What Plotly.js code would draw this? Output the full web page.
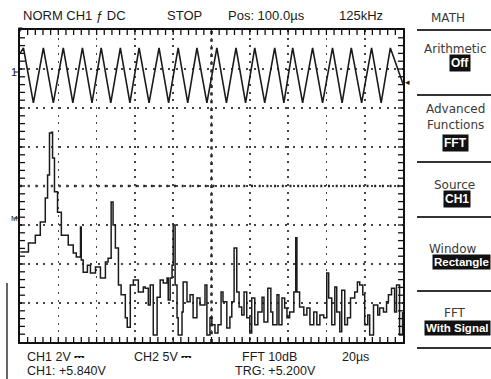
<!DOCTYPE html>
<html>
<head>
<meta charset="utf-8">
<script src="https://cdn.plot.ly/plotly-3.0.1.min.js"></script>
<style>html,body{margin:0;padding:0;background:#fff;}#chart{width:491px;height:379px;}</style>
</head>
<body>
<div id="chart"></div>
<script>
// ---- DATA (screen divisions: x 0..10, y 0..8) ----
// CH1 triangle waveform vertices
const triX = [0.00,0.09,0.35,0.61,0.87,1.13,1.38,1.63,1.88,2.12,2.37,2.62,2.87,3.11,3.37,3.63,3.88,4.13,4.38,4.62,4.88,5.14,5.39,5.64,5.89,6.13,6.39,6.65,6.89,7.12,7.38,7.64,7.90,8.16,8.41,8.65,8.92,9.18,9.43,9.67,10.0];
const triY = [7.40,7.54,6.13,7.54,6.13,7.54,6.13,7.54,6.13,7.54,6.13,7.54,6.13,7.54,6.13,7.54,6.13,7.54,6.13,7.54,6.13,7.54,6.13,7.54,6.13,7.54,6.13,7.54,6.13,7.54,6.13,7.54,6.13,7.54,6.13,7.54,6.13,7.54,6.13,7.54,6.62];
// FFT (10 dB/div) trace
const fftX = [0.01,0.22,0.40,0.53,0.66,0.72,0.77,0.82,0.85,0.90,0.98,1.08,1.26,1.39,1.47,1.55,1.58,1.60,1.65,1.76,1.84,1.97,2.10,2.23,2.30,2.38,2.43,2.49,2.57,2.64,2.75,2.80,2.88,2.96,3.09,3.22,3.27,3.35,3.40,3.48,3.58,3.66,3.74,3.84,3.87,3.92,3.97,4.00,4.05,4.10,4.13,4.23,4.26,4.36,4.44,4.52,4.62,4.70,4.83,4.88,4.96,5.01,5.09,5.17,5.25,5.30,5.40,5.48,5.53,5.59,5.66,5.72,5.79,5.85,5.92,6.00,6.05,6.13,6.21,6.32,6.37,6.47,6.55,6.60,6.71,6.76,6.84,6.91,6.97,7.04,7.15,7.20,7.23,7.30,7.41,7.49,7.57,7.67,7.75,7.83,7.93,8.01,8.06,8.14,8.22,8.27,8.35,8.40,8.48,8.55,8.63,8.74,8.81,8.87,8.95,9.00,9.08,9.13,9.23,9.34,9.39,9.49,9.57,9.62,9.70,9.78,9.83,9.91,9.99];
const fftY = [2.31,2.54,2.74,3.08,3.69,4.28,5.36,5.38,4.72,3.85,3.33,2.74,2.49,2.28,2.18,2.18,2.95,2.10,1.79,1.97,1.77,1.92,1.64,2.05,2.15,3.59,3.00,2.41,1.46,1.21,0.62,0.38,1.46,1.59,1.28,1.41,1.38,0.95,1.46,0.18,1.15,1.59,1.51,1.64,1.08,1.64,1.97,3.00,1.46,0.62,0.18,0.77,1.54,1.03,1.21,0.62,1.13,0.95,1.46,0.18,0.62,0.44,0.23,0.44,1.28,1.03,0.36,0.64,1.03,2.41,1.28,0.90,0.69,1.28,0.62,0.23,1.13,0.44,0.77,1.15,0.51,1.38,0.77,0.44,1.21,0.44,1.13,0.87,0.62,0.77,1.28,2.67,1.28,0.90,0.69,0.87,0.44,0.77,0.44,0.69,0.62,1.77,1.13,0.44,1.41,0.77,0.26,1.33,0.44,0.62,1.13,1.28,1.54,1.46,1.21,0.44,0.69,0.18,0.95,0.69,0.87,0.77,1.03,1.21,1.38,0.77,1.46,0.18,0.77];
// Status texts
const topLabels = ["NORM CH1 ƒ DC","STOP","Pos: 100.0µs","125kHz"];
const bottomRow1 = ["CH1 2V ⎓","CH2 5V ⎓","FFT 10dB","20µs"];
const bottomRow2 = ["CH1: +5.840V","TRG: +5.200V"];
const menuTitle = "MATH";
const menuLabels = ["Arithmetic","Advanced<br>Functions","Source","Window","FFT"];
const menuValues = ["Off","FFT","CH1","Rectangle","With Signal"];

// ---- LAYOUT ----
const W=491,H=379,L=20,R=403,T=30,B=342;
const px=x=>(x-L)/(R-L), py=y=>(B-y)/(B-T);
const ink='#1b1b1b';
const txtFont={family:'Liberation Sans, Arial, sans-serif',size:13,color:ink};
const txtFont2={family:'Liberation Sans, Arial, sans-serif',size:12.5,color:ink};
const menuFont={family:'DejaVu Sans, sans-serif',size:12,color:'#3a3a3a'};
const boxFont={family:'Liberation Sans, Arial, sans-serif',size:12,color:'#fff',weight:700};
const boxFontS={family:'Liberation Sans, Arial, sans-serif',size:11.5,color:'#fff',weight:700};

const ann=[];
const addT=(t,x,y,font,xa)=>ann.push({text:t,x:px(x),y:py(y),xref:'paper',yref:'paper',showarrow:false,xanchor:xa||'left',yanchor:'middle',font:font});
[21,165,226,337].forEach((x,i)=>addT(topLabels[i],x,16,txtFont));
[25,132,240,340].forEach((x,i)=>addT(bottomRow1[i],x,357,txtFont2));
[25,233].forEach((x,i)=>addT(bottomRow2[i],x,371,txtFont2));
addT(menuTitle,448,18,menuFont,'center');
addT(menuLabels[0],456,49,menuFont,'center');
addT(menuLabels[1],455,117,menuFont,'center');
addT(menuLabels[2],454,185,menuFont,'center');
addT(menuLabels[3],453,249,menuFont,'center');
addT(menuLabels[4],455,313,menuFont,'center');
const valPos=[[460,63,'center',boxFont],[455,143,'center',boxFont],[457,199,'center',boxFont],[491,262,'right',boxFontS],[491,328,'right',boxFontS]];
menuValues.forEach((v,i)=>ann.push({text:v,x:px(valPos[i][0]),y:py(valPos[i][1]),xref:'paper',yref:'paper',showarrow:false,xanchor:valPos[i][2],yanchor:'middle',font:valPos[i][3],bgcolor:'#111',borderpad:1}));
// channel markers
addT('1',9,72,{family:'Liberation Sans, sans-serif',size:11,color:ink});
addT('M',9,218,{family:'Liberation Sans, sans-serif',size:8,color:ink});
addT('◂',403,82,{family:'DejaVu Sans, sans-serif',size:9,color:ink});
addT('▾',20,29,{family:'DejaVu Sans, sans-serif',size:9,color:ink},'center');

const shapes=[];
[30,95,162,217,291,348].forEach(y=>shapes.push({type:'line',xref:'paper',yref:'paper',x0:px(417),x1:px(491),y0:py(y),y1:py(y),line:{color:'#333',width:2}}));
shapes.push({type:'line',xref:'paper',yref:'paper',x0:px(7),x1:px(7),y0:py(283),y1:py(379),line:{color:'#333',width:1.5}});
shapes.push({type:'line',xref:'paper',yref:'paper',x0:px(14),x1:px(20),y0:py(72),y1:py(72),line:{color:ink,width:1}});
shapes.push({type:'line',xref:'paper',yref:'paper',x0:px(14),x1:px(20),y0:py(218),y1:py(218),line:{color:ink,width:1}});
// center cross lines
shapes.push({type:'line',xref:'x',yref:'paper',x0:5,x1:5,y0:0,y1:1,line:{color:'#222',width:2.5,dash:'3px,4.7px'},layer:'below'});
shapes.push({type:'line',xref:'paper',yref:'y',x0:0,x1:1,y0:4,y1:4,line:{color:'#222',width:2.5,dash:'2px,5.7px'},layer:'below'});
// graticule border ticks (every 1/5 division)
const tl=5;
for(let i=1;i<50;i++){const xv=i/5;
  shapes.push({type:'line',xref:'x',yref:'paper',x0:xv,x1:xv,y0:0,y1:tl/(B-T),line:{color:'#111',width:1.3}});
  shapes.push({type:'line',xref:'x',yref:'paper',x0:xv,x1:xv,y0:1,y1:1-tl/(B-T),line:{color:'#111',width:1.3}});}
for(let j=1;j<40;j++){const yv=j/5;
  shapes.push({type:'line',xref:'paper',yref:'y',x0:0,x1:tl/(R-L),y0:yv,y1:yv,line:{color:'#111',width:1.3}});
  shapes.push({type:'line',xref:'paper',yref:'y',x0:1,x1:1-tl/(R-L),y0:yv,y1:yv,line:{color:'#111',width:1.3}});}

const axBase={showticklabels:false,zeroline:false,showline:true,linecolor:'#111',linewidth:2,mirror:true,
  ticks:'',dtick:1,showgrid:true,gridcolor:'#444',gridwidth:1.6,fixedrange:true};

const data=[
 {x:triX,y:triY,type:'scatter',mode:'lines',line:{color:ink,width:1.6},hoverinfo:'skip'},
 {x:fftX,y:fftY,type:'scatter',mode:'lines',line:{color:ink,width:1.5,shape:'hv'},hoverinfo:'skip'}
];
const layout={width:W,height:H,margin:{l:L,r:W-R,t:T,b:H-B,pad:0},paper_bgcolor:'#fff',plot_bgcolor:'#fff',showlegend:false,
  xaxis:Object.assign({},axBase,{range:[0,10],griddash:'2px,5.7px'}),
  yaxis:Object.assign({},axBase,{range:[0,8],griddash:'2px,5.8px'}),
  annotations:ann,shapes:shapes};
Plotly.newPlot('chart',data,layout,{displayModeBar:false,staticPlot:true});
</script>
</body>
</html>
